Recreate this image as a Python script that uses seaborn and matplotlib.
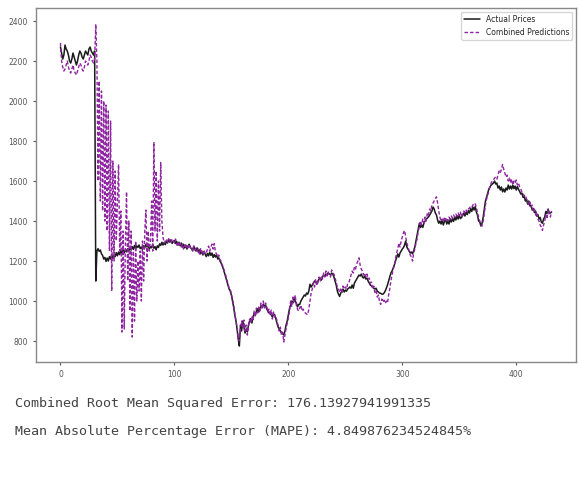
import numpy as np
import pandas as pd
import matplotlib
matplotlib.use("Agg")
import matplotlib.pyplot as plt
import seaborn as sns

# Actual prices, 10 values per row (row comment = first index)
actual_prices = [
    2270, 2240, 2210, 2230, 2280, 2260, 2250, 2230, 2200, 2190,  # 0
    2210, 2240, 2220, 2200, 2180, 2200, 2230, 2250, 2240, 2220,  # 10
    2210, 2230, 2250, 2240, 2230, 2260, 2270, 2250, 2240, 2230,  # 20
    2250, 1100, 1250, 1262, 1248, 1255, 1236, 1228, 1210, 1218,  # 30
    1198, 1215, 1200, 1222, 1210, 1232, 1212, 1230, 1222, 1242,  # 40
    1226, 1245, 1232, 1252, 1236, 1256, 1240, 1258, 1246, 1262,  # 50
    1250, 1266, 1255, 1272, 1258, 1278, 1262, 1276, 1268, 1280,  # 60
    1262, 1270, 1258, 1276, 1266, 1284, 1270, 1278, 1260, 1272,  # 70
    1266, 1284, 1264, 1272, 1256, 1276, 1268, 1286, 1278, 1294,  # 80
    1280, 1292, 1282, 1300, 1290, 1310, 1294, 1306, 1288, 1298,  # 90
    1302, 1288, 1298, 1280, 1294, 1276, 1290, 1270, 1284, 1266,  # 100
    1280, 1260, 1276, 1284, 1268, 1262, 1252, 1274, 1258, 1250,  # 110
    1266, 1244, 1256, 1236, 1250, 1230, 1248, 1234, 1222, 1238,  # 120
    1226, 1244, 1228, 1240, 1218, 1232, 1220, 1232, 1210, 1216,  # 130
    1200, 1190, 1175, 1160, 1140, 1120, 1100, 1080, 1060, 1050,  # 140
    1030, 1000, 970, 930, 900, 860, 810, 775, 880, 850,          # 150
    900, 870, 840, 860, 845, 880, 900, 912, 890, 920,            # 160
    940, 930, 950, 962, 945, 960, 975, 970, 983, 975,            # 170
    980, 960, 950, 940, 945, 930, 920, 935, 932, 910,            # 180
    890, 870, 861, 850, 840, 836, 830, 850, 880, 900,            # 190
    930, 962, 980, 1000, 990, 1013, 1000, 990, 970, 983,         # 200
    983, 1000, 1010, 1020, 1030, 1025, 1040, 1034, 1050, 1084,   # 210
    1070, 1080, 1090, 1100, 1095, 1084, 1100, 1110, 1115, 1105,  # 220
    1120, 1130, 1125, 1135, 1130, 1140, 1135, 1130, 1140, 1135,  # 230
    1120, 1100, 1080, 1050, 1034, 1023, 1040, 1050, 1060, 1045,  # 240
    1055, 1049, 1060, 1064, 1070, 1064, 1080, 1064, 1090, 1100,  # 250
    1110, 1120, 1130, 1125, 1135, 1120, 1115, 1125, 1110, 1115,  # 260
    1100, 1090, 1080, 1075, 1070, 1064, 1060, 1064, 1050, 1045,  # 270
    1040, 1039, 1035, 1034, 1040, 1050, 1064, 1080, 1100, 1120,  # 280
    1140, 1150, 1165, 1180, 1200, 1216, 1236, 1220, 1240, 1250,  # 290
    1260, 1267, 1280, 1300, 1270, 1260, 1250, 1240, 1245, 1236,  # 300
    1252, 1270, 1300, 1330, 1360, 1389, 1368, 1380, 1368, 1390,  # 310
    1400, 1410, 1415, 1420, 1430, 1440, 1450, 1470, 1460, 1440,  # 320
    1430, 1405, 1389, 1400, 1385, 1405, 1380, 1398, 1410, 1385,  # 330
    1400, 1385, 1408, 1395, 1412, 1398, 1420, 1405, 1425, 1410,  # 340
    1430, 1412, 1418, 1428, 1440, 1425, 1445, 1432, 1452, 1440,  # 350
    1462, 1448, 1470, 1455, 1472, 1445, 1430, 1400, 1395, 1375,  # 360
    1389, 1420, 1460, 1500, 1520, 1541, 1560, 1571, 1580, 1585,  # 370
    1590, 1600, 1585, 1590, 1565, 1575, 1555, 1570, 1546, 1560,  # 380
    1545, 1565, 1555, 1580, 1560, 1575, 1560, 1580, 1562, 1575,  # 390
    1555, 1572, 1558, 1548, 1535, 1540, 1518, 1522, 1500, 1510,  # 400
    1485, 1500, 1475, 1478, 1455, 1462, 1442, 1450, 1425, 1432,  # 410
    1410, 1418, 1395, 1389, 1410, 1420, 1448, 1438, 1460, 1440,  # 420
    1440, 1445,                                                  # 430
]

# Combined model predictions
combined_predictions = [
    2290, 2200, 2170, 2150, 2160, 2180, 2200, 2170, 2150, 2140,  # 0
    2160, 2180, 2150, 2140, 2130, 2150, 2170, 2190, 2180, 2160,  # 10
    2150, 2170, 2200, 2190, 2180, 2200, 2230, 2220, 2200, 2190,  # 20
    2210, 2384, 2200, 1600, 2100, 1500, 2050, 1450, 2000, 1400,  # 30
    1980, 1350, 1950, 1250, 1900, 1050, 1700, 1200, 1650, 1300,  # 40
    1500, 1683, 1250, 1450, 845, 1350, 860, 1300, 1546, 1100,    # 50
    1400, 950, 1350, 820, 1250, 900, 1300, 1000, 1200, 1050,     # 60
    1250, 1000, 1300, 1100, 1350, 1455, 1200, 1350, 1250, 1300,  # 70
    1500, 1250, 1795, 1350, 1650, 1300, 1600, 1350, 1693, 1400,  # 80
    1320, 1290, 1300, 1310, 1295, 1310, 1300, 1290, 1310, 1305,  # 90
    1290, 1310, 1280, 1295, 1275, 1290, 1270, 1285, 1260, 1280,  # 100
    1265, 1275, 1260, 1285, 1265, 1270, 1250, 1275, 1255, 1265,  # 110
    1250, 1260, 1235, 1265, 1245, 1230, 1255, 1235, 1240, 1260,  # 120
    1275, 1250, 1270, 1285, 1260, 1287, 1245, 1235, 1220, 1230,  # 130
    1205, 1200, 1180, 1170, 1145, 1130, 1105, 1090, 1065, 1060,  # 140
    1035, 1010, 980, 940, 905, 870, 820, 800, 860, 900,          # 150
    870, 905, 850, 880, 830, 870, 910, 890, 920, 900,            # 160
    950, 920, 965, 940, 970, 950, 990, 960, 1000, 965,           # 170
    990, 975, 945, 960, 930, 955, 910, 945, 920, 925,            # 180
    900, 880, 850, 870, 830, 845, 795, 830, 860, 890,            # 190
    915, 950, 1000, 970, 1020, 995, 1030, 980, 960, 950,         # 200
    965, 980, 950, 960, 945, 940, 935, 932, 960, 1000,           # 210
    1040, 1060, 1090, 1070, 1110, 1080, 1095, 1120, 1100, 1125,  # 220
    1110, 1140, 1120, 1150, 1125, 1145, 1130, 1120, 1155, 1140,  # 230
    1135, 1115, 1095, 1070, 1060, 1045, 1060, 1040, 1075, 1060,  # 240
    1070, 1060, 1085, 1090, 1110, 1130, 1150, 1140, 1170, 1160,  # 250
    1185, 1200, 1216, 1180, 1160, 1150, 1130, 1140, 1120, 1135,  # 260
    1110, 1115, 1090, 1095, 1060, 1075, 1040, 1050, 1020, 1030,  # 270
    1000, 983, 1010, 995, 1005, 988, 1000, 990, 1030, 1060,      # 280
    1100, 1130, 1160, 1175, 1210, 1240, 1260, 1290, 1270, 1300,  # 290
    1320, 1340, 1353, 1320, 1290, 1270, 1250, 1230, 1220, 1200,  # 300
    1240, 1260, 1290, 1310, 1350, 1370, 1400, 1380, 1410, 1390,  # 310
    1420, 1400, 1440, 1430, 1460, 1450, 1480, 1490, 1500, 1510,  # 320
    1521, 1490, 1450, 1420, 1400, 1410, 1395, 1420, 1405, 1415,  # 330
    1400, 1420, 1410, 1425, 1415, 1430, 1420, 1435, 1425, 1440,  # 340
    1430, 1445, 1420, 1435, 1450, 1440, 1455, 1445, 1460, 1465,  # 350
    1475, 1470, 1480, 1490, 1485, 1470, 1440, 1420, 1400, 1380,  # 360
    1375, 1400, 1440, 1480, 1510, 1530, 1555, 1570, 1590, 1600,  # 370
    1605, 1615, 1620, 1610, 1630, 1650, 1640, 1660, 1683, 1660,  # 380
    1640, 1620, 1630, 1600, 1615, 1590, 1610, 1580, 1600, 1590,  # 390
    1605, 1580, 1590, 1570, 1560, 1545, 1540, 1525, 1530, 1510,  # 400
    1500, 1480, 1495, 1470, 1480, 1450, 1460, 1430, 1445, 1410,  # 410
    1400, 1380, 1370, 1353, 1380, 1400, 1430, 1410, 1460, 1430,  # 420
    1420, 1450,                                                  # 430
]

rmse_text = "Combined Root Mean Squared Error: 176.13927941991335"
mape_text = "Mean Absolute Percentage Error (MAPE): 4.849876234524845%"

sns.set_style("ticks")
plt.rcParams['font.family'] = ['DejaVu Sans']

df = pd.DataFrame({
    'day': np.arange(len(actual_prices)),
    'actual': actual_prices,
    'pred': combined_predictions,
})

fig = plt.figure(figsize=(5.79, 4.79), dpi=100)
ax = fig.add_axes([0.062, 0.244, 0.933, 0.739])

sns.lineplot(data=df, x='day', y='actual', color='#1a1a1a', linewidth=1.1,
             label='Actual Prices', ax=ax)
sns.lineplot(data=df, x='day', y='pred', color='#8e24a0', linewidth=1.0,
             dashes=False, label='Combined Predictions', ax=ax)
# make the prediction line finely dashed
ax.lines[1].set_linestyle((0, (2.5, 1.5)))

ax.set_xlabel('')
ax.set_ylabel('')
ax.set_xticks([0, 100, 200, 300, 400])
ax.set_yticks([800, 1000, 1200, 1400, 1600, 1800, 2000, 2200, 2400])
ax.tick_params(labelsize=5.5, length=2.5, colors='#555555')
for s in ax.spines.values():
    s.set_color('#888888')
    s.set_linewidth(1.0)

leg = ax.legend(loc='upper right', fontsize=5.5, frameon=True, handlelength=2.0)
leg.get_lines()[1].set_linestyle((0, (2.5, 1.5)))

fig.text(0.026, 1 - 404 / 479, rmse_text, family='DejaVu Sans Mono',
         fontsize=9.6, color='#444444', va='center')
fig.text(0.026, 1 - 432 / 479, mape_text, family='DejaVu Sans Mono',
         fontsize=9.6, color='#444444', va='center')

fig.savefig('out.png', dpi=100)
